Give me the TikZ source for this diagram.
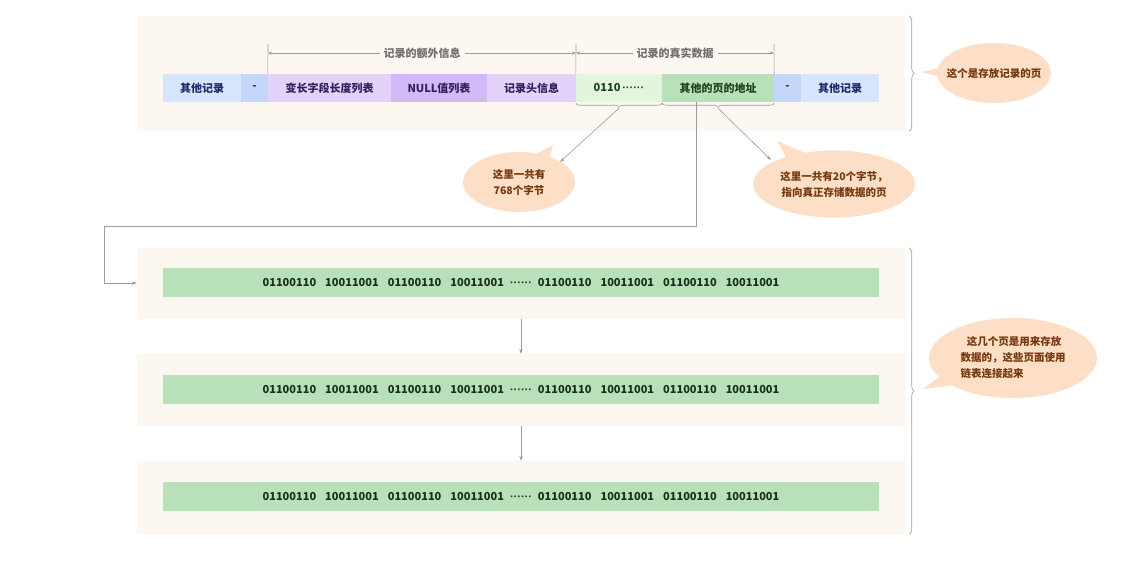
\documentclass[tikz,border=0pt]{standalone}
\usepackage{fontspec}
\setmainfont{Noto Sans CJK SC}
\newfontfamily\latinfont{Liberation Sans}
\usetikzlibrary{arrows.meta, shapes.callouts, decorations.pathreplacing}

\definecolor{pagebg}{HTML}{FCF7F0}
\definecolor{recblue}{HTML}{D7E5FD}
\definecolor{dashblue}{HTML}{C4D7FB}
\definecolor{hdrlav}{HTML}{E3D3FB}
\definecolor{nullpurple}{HTML}{D2B9F8}
\definecolor{datagreen}{HTML}{E3F5DD}
\definecolor{addrgreen}{HTML}{B9E1B9}
\definecolor{bitgreen}{HTML}{B9E1B9}
\definecolor{navytext}{HTML}{1F2A6B}
\definecolor{lavtext}{HTML}{33205A}
\definecolor{greentext}{HTML}{1E421F}
\definecolor{bittext}{HTML}{1B301B}
\definecolor{linegray}{HTML}{9C9C9C}
\definecolor{taggray}{HTML}{707070}
\definecolor{bubblefill}{HTML}{FCDFC6}
\definecolor{bubbletext}{HTML}{75380F}

\newcommand\sixdots{{\latinfont\bfseries ······}}
\newcommand\bitrow{01100110\hspace{9pt}10011001\hspace{9pt}01100110\hspace{9pt}10011001\hspace{6pt}\sixdots\hspace{6pt}01100110\hspace{9pt}10011001\hspace{9pt}01100110\hspace{9pt}10011001}

\begin{document}
\begin{tikzpicture}[x=1pt, y=-1pt,
    panel/.style={fill=pagebg, inner sep=0pt, minimum width=768pt},
    cell/.style={minimum height=28pt, inner sep=0pt,
                 font=\bfseries\fontsize{11}{13}\selectfont},
    bar/.style={fill=bitgreen, minimum width=716pt, minimum height=29pt,
                inner sep=0pt, text=bittext, font=\bfseries\fontsize{11}{13}\selectfont},
    dim/.style={draw=linegray, line width=0.6pt},
    tag/.style={fill=pagebg, text=taggray, inner sep=4pt,
                font=\bfseries\fontsize{11}{13}\selectfont},
    link/.style={draw=linegray, line width=0.6pt, -{Stealth[length=5pt,width=3.5pt]}},
    curly/.style={draw=linegray, line width=0.6pt, decorate,
                  decoration={brace, amplitude=#1}},
    bubble/.style={ellipse callout, fill=bubblefill, text=bubbletext, inner sep=0pt,
                   align=center, font=\bfseries\fontsize{10.5}{16}\selectfont},
  ]
  \useasboundingbox (0,0) rectangle (1142,584);

  % The page that holds the records
  \node[panel, minimum height=115pt] (recpage) at (521,73.5) {};
  \node[cell, fill=recblue, text=navytext, minimum width=78pt] (recL) at (202,88) {其他记录};
  \node[cell, fill=dashblue, text=navytext, minimum width=27pt] (dashL) at (254.5,88) {-};
  \node[cell, fill=hdrlav, text=lavtext, minimum width=123pt] (varlen) at (329.5,88) {变长字段长度列表};
  \node[cell, fill=nullpurple, text=lavtext, minimum width=96pt] (nulls) at (439,88) {NULL值列表};
  \node[cell, fill=hdrlav, text=lavtext, minimum width=89pt] (rechdr) at (531.5,88) {记录头信息};
  \node[cell, fill=datagreen, text=greentext, minimum width=86pt] (bytes) at (619,88) {0110\,\sixdots};
  \node[cell, fill=addrgreen, text=greentext, minimum width=112pt] (addr) at (718,88) {其他的页的地址};
  \node[cell, fill=dashblue, text=navytext, minimum width=27pt] (dashR) at (787.5,88) {-};
  \node[cell, fill=recblue, text=navytext, minimum width=78pt] (recR) at (840,88) {其他记录};

  % Dimension lines over the record
  \coordinate (d1) at (268,44);
  \coordinate (d2) at (576,44);
  \coordinate (d3) at (774,44);
  \draw[dim] (d1) -- (varlen.north west);
  \draw[dim] (d2) -- (bytes.north west);
  \draw[dim] (d3) -- (addr.north east);
  \draw[dim, {Stealth[length=4pt,width=3pt]}-{Stealth[length=4pt,width=3pt]}]
    ([yshift=-9pt]d1) -- node[tag] (extra) {记录的额外信息} ([yshift=-9pt]d2);
  \draw[dim, {Stealth[length=4pt,width=3pt]}-{Stealth[length=4pt,width=3pt]}]
    ([yshift=-9pt]d2) -- node[tag] (real) {记录的真实数据} ([yshift=-9pt]d3);

  % Braces under the real data
  \draw[curly=4pt, decoration={mirror}] ([yshift=-1pt]bytes.south west) -- ([yshift=-1pt]bytes.south east);
  \draw[curly=4pt, decoration={mirror}] ([yshift=-1pt]addr.south west) -- ([yshift=-1pt]addr.south east);
  \coordinate (bytestip) at ([yshift=-6pt]bytes.south);
  \coordinate (addrtip) at ([yshift=-6pt]addr.south);

  % Callouts
  \node[bubble, minimum width=112pt, minimum height=60pt,
        callout absolute pointer={(553,145)}] (say768) at (519,182)
        {这里一共有\\768个字节};
  \node[bubble, minimum width=162pt, minimum height=67pt, inner xsep=-3pt,
        callout absolute pointer={(777,141)}] (say20) at (834,184)
        {这里一共有20个字节，\\指向真正存储数据的页};
  \node[bubble, minimum width=112pt, minimum height=60pt, inner xsep=-7pt,
        callout absolute pointer={(921,72)}] (sayrec) at (994,73)
        {这个是存放记录的页};
  \node[bubble, minimum width=168pt, minimum height=80pt, align=left,
        callout absolute pointer={(923,389)}] (saylist) at (1013,358)
        {\hspace{0.6em}这几个页是用来存放\\数据的，这些页面使用\\链表连接起来};
  \coordinate (end768) at (560,162);
  \coordinate (end20) at (771,160);
  \draw[link] (bytestip) -- (end768);
  \draw[link] (addrtip) -- (end20);

  % The data pages
  \node[panel, minimum height=71pt] (page1) at (521,283.5) {};
  \node[panel, minimum height=72pt] (page2) at (521,390) {};
  \node[panel, minimum height=73pt] (page3) at (521,497.5) {};
  \node[bar] (bits1) at (521,282.5) {\bitrow};
  \node[bar] (bits2) at (521,389.5) {\bitrow};
  \node[bar] (bits3) at (521,496.5) {\bitrow};
  \draw[link] (page1.south) -- (page2.north);
  \draw[link] (page2.south) -- (page3.north);

  % From the address down to the first page
  \coordinate (turnA) at (696,226);
  \coordinate (turnB) at (104,226);
  \coordinate (turnC) at (104,283);
  \draw[link] (addr.south -| turnA) -- (turnA) -- (turnB) -- (turnC) -- (turnC -| page1.west);

  % Braces on the right
  \draw[curly=5pt] ([xshift=4pt]recpage.north east) -- ([xshift=4pt]recpage.south east);
  \draw[curly=5pt] ([xshift=4pt]page1.north east) -- ([xshift=4pt]page3.south east);
\end{tikzpicture}
\end{document}
